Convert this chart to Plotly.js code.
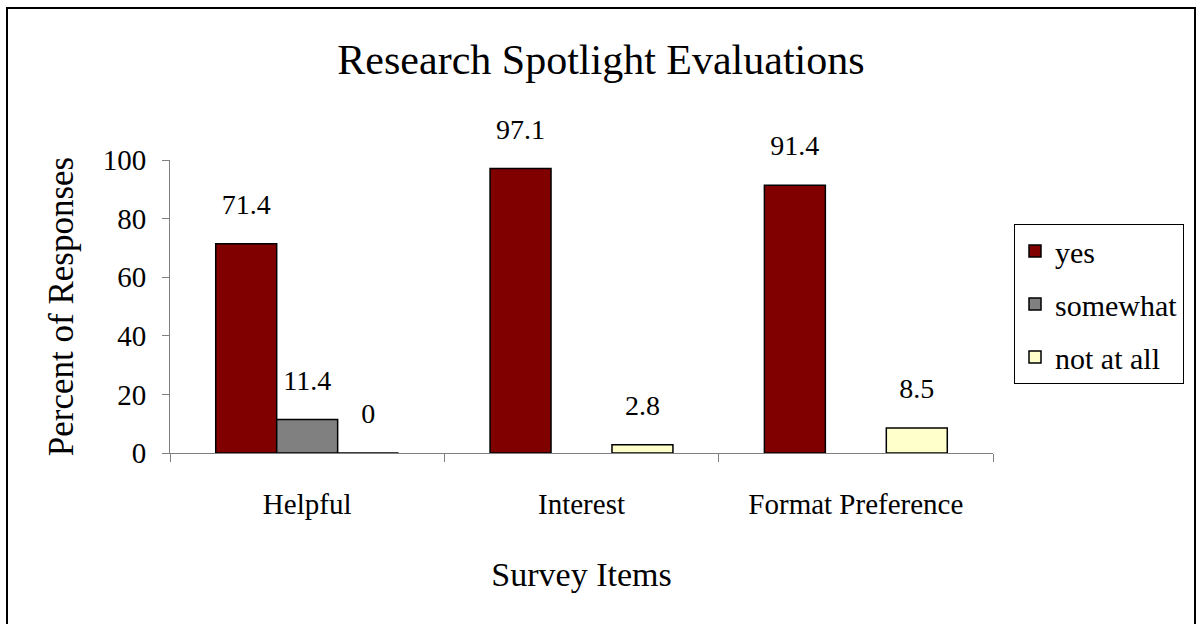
<!DOCTYPE html>
<html>
<head>
<meta charset="utf-8">
<script src="https://cdn.plot.ly/plotly-3.0.1.min.js"></script>
<style>
  html, body { margin: 0; padding: 0; background: #fff; }
  #wrap { position: relative; width: 1196px; height: 624px; overflow: hidden; }
  #chart { position: absolute; left: 0; top: 0; width: 1196px; height: 624px; }
  #frame { position: absolute; left: 6px; top: 7px; width: 1186px; height: 640px;
           border: 2px solid #000; pointer-events: none; }
</style>
</head>
<body>
<div id="wrap">
  <div id="chart"></div>
  <div id="frame"></div>
</div>
<script>
// ---- data ----
var categories = ["Helpful", "Interest", "Format Preference"];
var seriesNames = ["yes", "somewhat", "not at all"];
var yesValues = [71.4, 97.1, 91.4];
var somewhatValues = [11.4, null, null];
var notAtAllValues = [0, 2.8, 8.5];
var yTickValues = [0, 20, 40, 60, 80, 100];

var seriesValues = [yesValues, somewhatValues, notAtAllValues];
var colors = ["#800000", "#808080", "#FFFFCC"];
var FONT = "'Liberation Serif', 'Times New Roman', serif";

var traces = [];
seriesValues.forEach(function (vals, i) {
  traces.push({
    type: "bar",
    name: seriesNames[i],
    x: categories,
    y: vals,
    offsetgroup: "g" + i,
    legendgroup: "g" + i,
    marker: { color: colors[i], line: { color: "#000", width: 1.5 } },
    hoverinfo: "x+y+name"
  });
});
// data labels placed above bars via grouped text scatter
seriesValues.forEach(function (vals, i) {
  traces.push({
    type: "scatter",
    mode: "markers+text",
    x: categories,
    y: vals,
    offsetgroup: "g" + i,
    text: vals.map(function (v) { return v === null ? "" : String(v); }),
    textposition: "top center",
    textfont: { family: FONT, size: 28, color: "#000" },
    marker: { size: 35, opacity: 0 },
    showlegend: false,
    hoverinfo: "skip",
    cliponaxis: false
  });
});

var layout = {
  width: 1196,
  height: 624,
  paper_bgcolor: "rgba(0,0,0,0)",
  plot_bgcolor: "rgba(0,0,0,0)",
  margin: { l: 170, r: 203, t: 160, b: 171, pad: 0 },
  barmode: "group",
  scattermode: "group",
  bargap: 1 / 3,
  bargroupgap: 0,
  font: { family: FONT, color: "#000" },
  title: {
    text: "Research Spotlight Evaluations",
    font: { family: FONT, size: 42, color: "#000" },
    x: 0.5025, xref: "container", xanchor: "center",
    y: 1 - 59 / 624, yref: "container", yanchor: "middle"
  },
  xaxis: {
    type: "category",
    categoryorder: "array",
    categoryarray: categories,
    showline: true, linecolor: "#808080", linewidth: 1,
    ticks: "outside", tickson: "boundaries", ticklen: 8, tickcolor: "#808080",
    tickfont: { family: FONT, size: 29, color: "#000" },
    ticklabelstandoff: 25,
    showgrid: false, zeroline: false,
    title: { text: "Survey Items", font: { family: FONT, size: 34, color: "#000" }, standoff: 43 },
    automargin: false
  },
  yaxis: {
    range: [0, 100],
    tickvals: yTickValues,
    showline: true, linecolor: "#808080", linewidth: 1,
    ticks: "outside", ticklen: 7, tickcolor: "#808080",
    tickfont: { family: FONT, size: 29, color: "#000" },
    ticklabelstandoff: 10,
    showgrid: false, zeroline: false,
    title: { text: "Percent of Responses", font: { family: FONT, size: 35, color: "#000" }, standoff: 18 },
    automargin: false
  },
  legend: {
    x: (1014 - 170) / 823, xanchor: "left",
    y: (453 - 224) / 293, yanchor: "top",
    bordercolor: "#000", borderwidth: 1, bgcolor: "#fff",
    font: { family: FONT, size: 30, color: "#000" },
    traceorder: "grouped", tracegroupgap: 11
  },
  showlegend: true
};

Plotly.newPlot("chart", traces, layout, { displayModeBar: false, staticPlot: true });
</script>
</body>
</html>
